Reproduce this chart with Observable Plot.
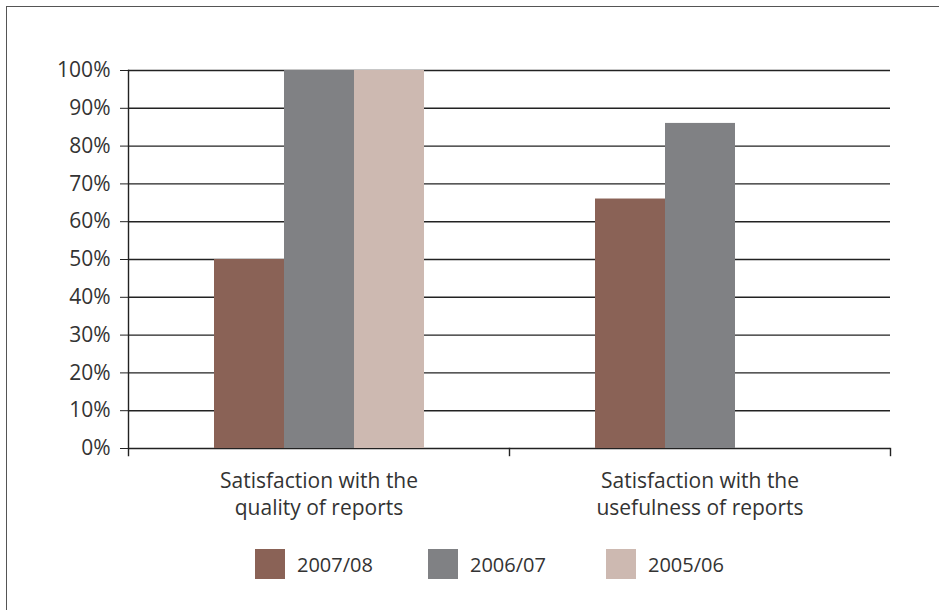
<!DOCTYPE html>
<html>
<head>
<meta charset="utf-8">
<script src="https://cdn.jsdelivr.net/npm/d3@7"></script>
<script src="https://cdn.jsdelivr.net/npm/@observablehq/plot@0.6"></script>
<style>
  html, body { margin: 0; padding: 0; background: #fff; }
  body { width: 939px; height: 610px; overflow: hidden; position: relative; font-family: "Open Sans", sans-serif; color: #333; }
  #border { position: absolute; left: 6px; top: 6px; width: 1000px; height: 700px; border-left: 1.5px solid #555; border-top: 1.5px solid #555; }
  #chart { position: absolute; left: 0; top: 0; }
  #legend { position: absolute; left: 0; top: 530px; width: 939px; height: 70px; }
  .item { position: absolute; top: 19px; display: flex; align-items: center; font-size: 20px; color: #333; }
  .swatch { width: 30px; height: 30px; margin-right: 12px; }
</style>
</head>
<body>
<div id="border"></div>
<div id="chart"></div>
<div id="legend"></div>
<script>
const categories = ["Satisfaction with the\nquality of reports", "Satisfaction with the\nusefulness of reports"];
const seriesNames = ["2007/08", "2006/07", "2005/06"];
const seriesColors = ["#8a6256", "#808184", "#cdb9b1"];
// values per series, per category (null = no bar)
const values2007_08 = [50, 66];
const values2006_07 = [100, 86];
const values2005_06 = [100, null];
const yTicks = [0, 10, 20, 30, 40, 50, 60, 70, 80, 90, 100];

const seriesValues = [values2007_08, values2006_07, values2005_06];
const data = [];
categories.forEach((c, ci) => {
  seriesNames.forEach((s, si) => {
    const v = seriesValues[si][ci];
    if (v != null) data.push({category: c, series: s, value: v});
  });
});

const plot = Plot.plot({
  width: 939,
  height: 530,
  marginLeft: 128,
  marginRight: 49,
  marginTop: 70,
  marginBottom: 82,
  style: {fontFamily: "Open Sans, sans-serif", fontSize: "21px", color: "#333", background: "transparent"},
  fx: {domain: categories, padding: 0, label: null, axis: null},
  x: {domain: seriesNames, paddingInner: 0, paddingOuter: 1.22, axis: null},
  y: {domain: [0, 100], label: null},
  color: {domain: seriesNames, range: seriesColors},
  marks: [
    Plot.ruleY(yTicks, {stroke: "#222", strokeWidth: 1.4}),
    Plot.barY(data, {fx: "category", x: "series", y: "value", fill: "series", inset: 0}),
    Plot.axisY({ticks: yTicks, tickFormat: d => d + "%", tickSize: 8, tickPadding: 10, stroke: "#222", fill: "#333", fontSize: 21, label: null}),
    Plot.frame({anchor: "left", facetAnchor: "left", insetBottom: -7, stroke: "#222", strokeWidth: 1.4}),
    Plot.frame({anchor: "right", insetTop: 378, insetBottom: -7, stroke: "#222", strokeWidth: 1.4}),
    Plot.axisFx({anchor: "bottom", tickSize: 0, tickPadding: 20, fontSize: 21, lineHeight: 1.3, fill: "#333", label: null})
  ]
});
document.getElementById("chart").appendChild(plot);

const legend = document.getElementById("legend");
const legendX = [255, 428, 606];
seriesNames.forEach((s, i) => {
  const item = document.createElement("div");
  item.className = "item";
  item.style.left = legendX[i] + "px";
  const sw = document.createElement("div");
  sw.className = "swatch";
  sw.style.background = seriesColors[i];
  const t = document.createElement("span");
  t.textContent = s;
  item.appendChild(sw);
  item.appendChild(t);
  legend.appendChild(item);
});
</script>
</body>
</html>
